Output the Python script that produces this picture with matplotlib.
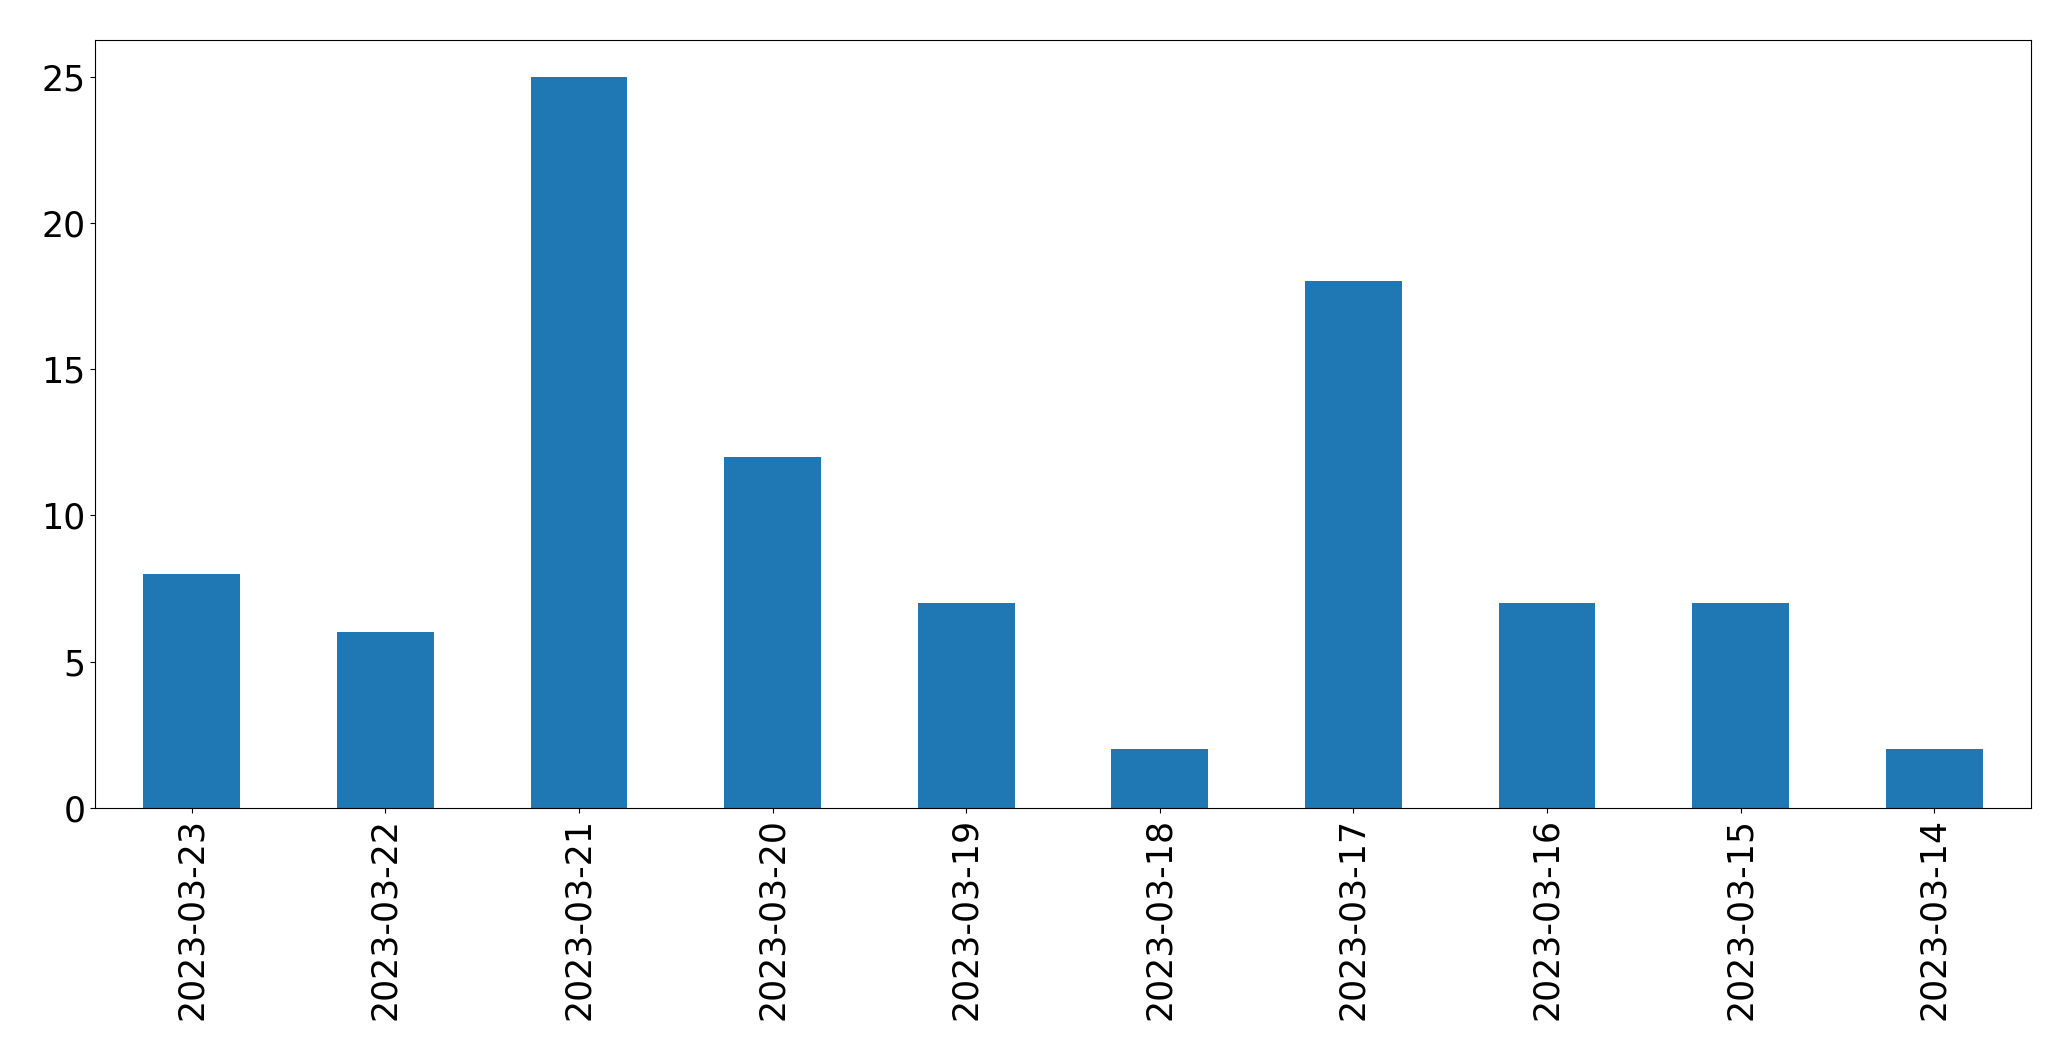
import matplotlib
matplotlib.use('Agg')
import matplotlib.pyplot as plt
import numpy as np

dates = ['2023-03-23', '2023-03-22', '2023-03-21', '2023-03-20', '2023-03-19',
         '2023-03-18', '2023-03-17', '2023-03-16', '2023-03-15', '2023-03-14']
counts = [8, 6, 25, 12, 7, 2, 18, 7, 7, 2]

fig = plt.figure(figsize=(20.71, 10.61), dpi=100)
ax = fig.add_axes([95/2071, 1 - 808/1061, (2031-95)/2071, (808-40)/1061])
x = np.arange(len(dates))
ax.bar(x, counts, width=0.5, color='#1f77b4')
ax.set_xlim(-0.5, len(dates) - 0.5)
ax.set_ylim(0, max(counts) * 1.05)
ax.set_xticks(x)
ax.set_xticklabels(dates, rotation=90)
ax.tick_params(labelsize=25)

fig.savefig('out.png', dpi=100)
